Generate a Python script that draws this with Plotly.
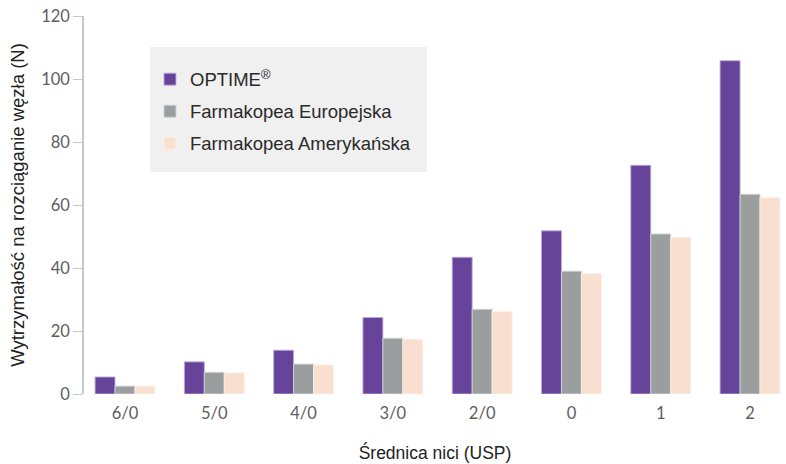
import plotly.graph_objects as go

categories = ["6/0", "5/0", "4/0", "3/0", "2/0", "0", "1", "2"]
optime = [5.4, 10.2, 13.9, 24.3, 43.4, 51.8, 72.6, 105.8]
farm_eu = [2.5, 6.9, 9.5, 17.7, 26.9, 39.0, 50.8, 63.4]
farm_us = [2.5, 6.7, 9.2, 17.4, 26.2, 38.2, 49.8, 62.3]
y_ticks = [0, 20, 40, 60, 80, 100, 120]

series = [
    ("OPTIME<sup>®</sup>", optime, "#65449A", "rgba(190,170,220,0.9)"),
    ("Farmakopea Europejska", farm_eu, "#9A9E9F", "rgba(210,212,213,0.9)"),
    ("Farmakopea Amerykańska", farm_us, "#F9DFCF", "rgba(252,240,232,0.9)"),
]

fig = go.Figure()
for i, (name, vals, col, lcol) in enumerate(series):
    fig.add_trace(go.Bar(
        x=list(range(len(categories))), y=vals, name=name,
        marker=dict(color=col, line=dict(color=lcol, width=1)),
        legendgroup=str(i),
    ))

tick_font = dict(family="Lato, 'Open Sans', sans-serif", size=16.5, color="#5e5e5e")
title_family = "Liberation Sans, Arial, sans-serif"

# legend background panel (paper coordinates)
fig.add_shape(type="rect", xref="paper", yref="paper",
              x0=0.094, x1=0.4886, y0=0.587, y1=0.918,
              fillcolor="#EFF0EF", line=dict(width=0), layer="below")

fig.update_layout(
    width=786, height=464,
    margin=dict(l=84, r=0, t=16, b=70),
    paper_bgcolor="white", plot_bgcolor="white",
    barmode="group", bargap=0.33, bargroupgap=0,
    font=dict(family=title_family, color="#222"),
    showlegend=True,
    legend=dict(
        x=0.094, y=0.747, xanchor="left", yanchor="middle",
        bgcolor="rgba(0,0,0,0)", borderwidth=0,
        font=dict(family=title_family, size=18.5, color="#2a2a2a"),
        tracegroupgap=5, itemwidth=30,
    ),
    xaxis=dict(
        tickmode="array", tickvals=list(range(len(categories))), ticktext=categories,
        range=[-0.459, 7.403], showgrid=False, showline=False, zeroline=False,
        ticks="outside", ticklen=4, tickcolor="rgba(0,0,0,0)",
        tickfont=tick_font, automargin=False,
        title=dict(text="Średnica nici (USP)", standoff=24,
                   font=dict(family=title_family, size=17.5, color="#222")),
    ),
    yaxis=dict(
        range=[0, 120], tickvals=y_ticks, showgrid=False, zeroline=False,
        showline=True, linecolor="#c8c8c8", linewidth=1.5,
        ticks="outside", ticklen=9, tickcolor="#c8c8c8", tickwidth=1,
        tickfont=tick_font, automargin=False,
        title=dict(text="Wytrzymałość na rozciąganie węzła (N)", standoff=12,
                   font=dict(family=title_family, size=18.5, color="#222")),
    ),
)

fig.write_html("out.html", config={"displayModeBar": False},
               post_script="document.body.style.margin='0';")
